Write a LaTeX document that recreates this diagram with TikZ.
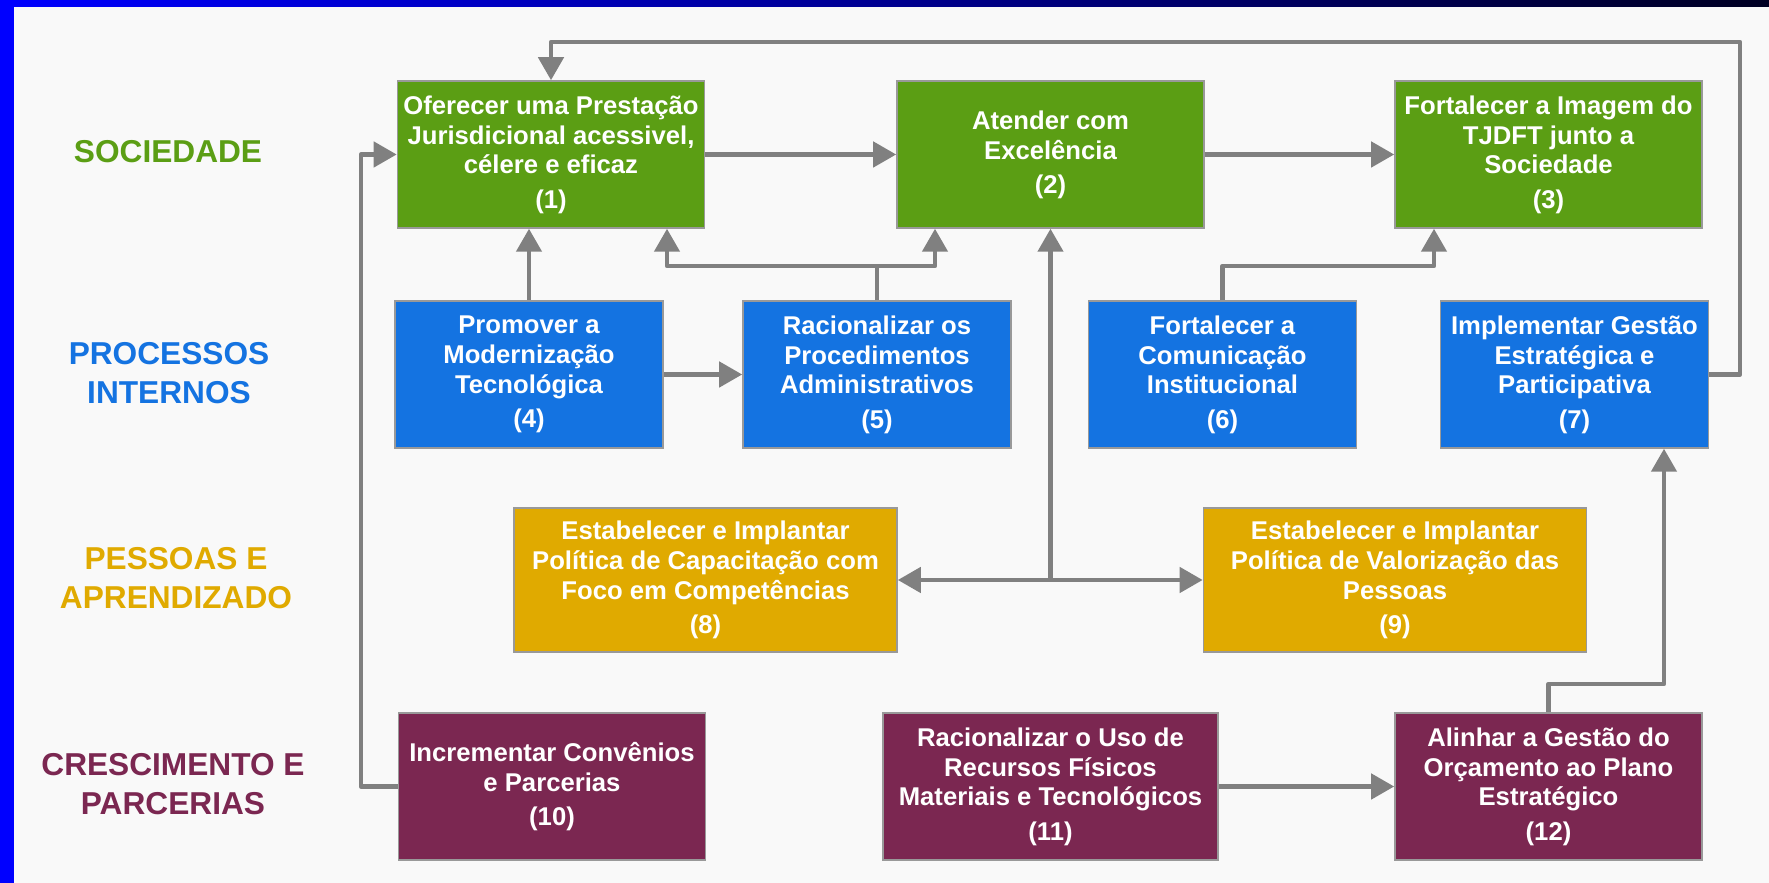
\documentclass[tikz,border=0pt]{standalone}
\usepackage{fontspec}
\setmainfont{Liberation Sans}
\usetikzlibrary{arrows.meta}

\definecolor{soc}{RGB}{91,158,20}
\definecolor{proc}{RGB}{20,115,225}
\definecolor{pess}{RGB}{224,170,0}
\definecolor{cresc}{RGB}{123,39,81}
\definecolor{bg}{RGB}{249,249,249}
\definecolor{navy}{RGB}{0,0,35}

\begin{document}
\begin{tikzpicture}[x=0.01cm, y=-0.01cm,
        X/.style={draw=gray!80, inner sep=0pt, minimum height=1.47cm, text=white,
            align=center, font=\bfseries\fontsize{7.3}{8.5}\selectfont},
        S/.style={X, fill=soc, minimum width=3.07cm},
        P/.style={X, fill=proc, minimum width=2.68cm},
        A/.style={X, fill=pess, minimum width=3.83cm, minimum height=1.44cm},
        C/.style={X, fill=cresc, minimum width=3.07cm},
        L/.style={align=center, font=\bfseries\fontsize{9}{11}\selectfont},
        link/.style={draw=gray, line width=1.3pt, line join=round},
        flow/.style={link, -{Triangle[length=2.3mm,width=2.5mm]}},
        both/.style={link, {Triangle[length=2.3mm,width=2.5mm]}-{Triangle[length=2.3mm,width=2.5mm]}}
    ]

    \def\g{\\[1.2pt]}
    \fill[bg] (0,0) rectangle (1769,883);
    \shade[left color=blue, right color=navy] (0,0) rectangle (1769,7);
    \fill[blue] (0,0) rectangle (14,883);

    \node[L, text=soc] (l1) at (168,152) {SOCIEDADE};
    \node[L, text=proc] (l2) at (169,373) {PROCESSOS\\INTERNOS};
    \node[L, text=pess] (l3) at (176,578) {PESSOAS E\\APRENDIZADO};
    \node[L, text=cresc] (l4) at (173,784) {CRESCIMENTO E\\PARCERIAS};

    \node[S] (n1) at (551,154.5) {Oferecer uma Prestação\\Jurisdicional acessivel,\\célere e eficaz\g(1)};
    \node[S] (n2) at (1050.5,154.5) {Atender com\\Excelência\g(2)};
    \node[S] (n3) at (1548.5,154.5) {Fortalecer a Imagem do\\TJDFT junto a\\Sociedade\g(3)};

    \node[P] (n4) at (529,374.5) {Promover a\\Modernização\\Tecnológica\g(4)};
    \node[P] (n5) at (877,374.5) {Racionalizar os\\Procedimentos\\Administrativos\g(5)};
    \node[P] (n6) at (1222.5,374.5) {Fortalecer a\\Comunicação\\Institucional\g(6)};
    \node[P] (n7) at (1574.5,374.5) {Implementar Gestão\\Estratégica e\\Participativa\g(7)};

    \node[A] (n8) at (705.5,580) {Estabelecer e Implantar\\Política de Capacitação com\\Foco em Competências\g(8)};
    \node[A] (n9) at (1395,580) {Estabelecer e Implantar\\Política de Valorização das\\Pessoas\g(9)};

    \node[C] (n10) at (552,786.5) {Incrementar Convênios\\e Parcerias\g(10)};
    \node[C, minimum width=3.35cm] (n11) at (1050.5,786.5) {Racionalizar o Uso de\\Recursos Físicos\\Materiais e Tecnológicos\g(11)};
    \node[C] (n12) at (1548.5,786.5) {Alinhar a Gestão do\\Orçamento ao Plano\\Estratégico\g(12)};

    \coordinate (top) at (1740,42);
    \coordinate (left) at (361,786.5);
    \coordinate (b1) at (667,266);
    \coordinate (b2) at (935,266);
    \coordinate (b3) at (1434,266);
    \coordinate (b7) at (1664,684);

    \draw[flow] (n1.east) -- (n2.west);
    \draw[flow] (n2.east) -- (n3.west);
    \draw[flow] (n7.east) -| (top) -| (n1.north);
    \draw[flow] (n10.west) -- (left) |- (n1.west);
    \draw[flow] (n4.north) -- (n4.north |- n1.south);
    \draw[flow] (n5.north) |- (b1) -- (b1 |- n1.south);
    \draw[flow] (n5.north) |- (b2) -- (b2 |- n2.south);
    \draw[flow] (n6.north) |- (b3) -- (b3 |- n3.south);
    \draw[flow] (n4.east) -- (n5.west);
    \draw[both] (n8.east) -- (n9.west);
    \draw[flow] (n8.east -| n2.south) -- (n2.south);
    \draw[flow] (n11.east) -- (n12.west);
    \draw[flow] (n12.north) |- (b7) -- (b7 |- n7.south);
\end{tikzpicture}
\end{document}
